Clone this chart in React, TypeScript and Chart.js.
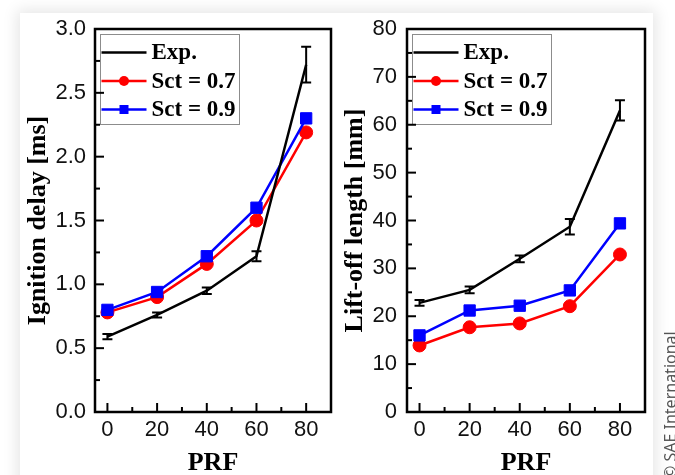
import React, { useEffect, useRef } from 'react';
import { Chart, registerables } from 'chart.js';

Chart.register(...registerables);

// ---------- data ----------
const PRF = [0, 20, 40, 60, 80];
const seriesLabels = ['Exp.', 'Sct = 0.7', 'Sct = 0.9'];

const delayExp = [0.59, 0.76, 0.95, 1.22, 2.72];
const delayExpErr = [0.02, 0.02, 0.025, 0.04, 0.14];
const delaySct07 = [0.78, 0.9, 1.16, 1.5, 2.19];
const delaySct09 = [0.8, 0.94, 1.22, 1.6, 2.3];

const liftExp = [22.8, 25.5, 32.0, 38.7, 63.0];
const liftExpErr = [0.6, 0.7, 0.7, 1.6, 2.1];
const liftSct07 = [13.9, 17.7, 18.5, 22.1, 32.9];
const liftSct09 = [16.0, 21.2, 22.2, 25.4, 39.4];

const xTicks = [0, 20, 40, 60, 80];
const xTickLabels = ['0', '20', '40', '60', '80'];
const xMinorTicks = [10, 30, 50, 70];

const delayTicks = [0, 0.5, 1, 1.5, 2, 2.5, 3];
const delayTickLabels = ['0.0', '0.5', '1.0', '1.5', '2.0', '2.5', '3.0'];
const delayMinorTicks = [0.25, 0.75, 1.25, 1.75, 2.25, 2.75];

const liftTicks = [0, 10, 20, 30, 40, 50, 60, 70, 80];
const liftTickLabels = ['0', '10', '20', '30', '40', '50', '60', '70', '80'];
const liftMinorTicks = [5, 15, 25, 35, 45, 55, 65, 75];

const colors = ['#000000', '#ff0000', '#0000ff'];

// ---------- plugins ----------
const framePlugin = {
  id: 'frameTicks',
  afterDraw(chart: any) {
    const { ctx, chartArea, scales } = chart;
    const o = chart.options.plugins.frameTicks;
    ctx.save();
    ctx.strokeStyle = '#000';
    ctx.lineWidth = 2;
    const xs = scales.x;
    const ys = scales.y;
    const tick = (vals: number[], len: number, horiz: boolean) => {
      vals.forEach((v) => {
        ctx.beginPath();
        if (horiz) {
          const px = xs.getPixelForValue(v);
          ctx.moveTo(px, chartArea.bottom);
          ctx.lineTo(px, chartArea.bottom - len);
        } else {
          const py = ys.getPixelForValue(v);
          ctx.moveTo(chartArea.left, py);
          ctx.lineTo(chartArea.left + len, py);
        }
        ctx.stroke();
      });
    };
    tick(o.xMajor, 9, true);
    tick(o.xMinor, 5, true);
    tick(o.yMajor, 9, false);
    tick(o.yMinor, 5, false);
    ctx.lineWidth = 2.5;
    ctx.strokeRect(
      chartArea.left,
      chartArea.top,
      chartArea.right - chartArea.left,
      chartArea.bottom - chartArea.top
    );
    ctx.restore();
  },
};

const errorBarPlugin = {
  id: 'errorBars',
  afterDatasetsDraw(chart: any) {
    const { ctx } = chart;
    const xs = chart.scales.x;
    const ys = chart.scales.y;
    chart.data.datasets.forEach((ds: any) => {
      if (!ds.errorBars) return;
      ctx.save();
      ctx.strokeStyle = ds.borderColor;
      ctx.lineWidth = 2;
      ds.data.forEach((p: any, i: number) => {
        const e = ds.errorBars[i];
        const px = xs.getPixelForValue(p.x);
        const yTop = ys.getPixelForValue(p.y + e);
        const yBot = ys.getPixelForValue(p.y - e);
        ctx.beginPath();
        ctx.moveTo(px, yTop);
        ctx.lineTo(px, yBot);
        ctx.moveTo(px - 5, yTop);
        ctx.lineTo(px + 5, yTop);
        ctx.moveTo(px - 5, yBot);
        ctx.lineTo(px + 5, yBot);
        ctx.stroke();
      });
      ctx.restore();
    });
  },
};

const boxLegendPlugin = {
  id: 'boxLegend',
  afterDatasetsDraw(chart: any) {
    const { ctx, chartArea } = chart;
    const x0 = chartArea.left + 5.5;
    const y0 = chartArea.top + 5.5;
    const w = 139;
    const h = 90;
    ctx.save();
    ctx.fillStyle = '#ffffff';
    ctx.fillRect(x0, y0, w, h);
    ctx.strokeStyle = '#8c8c8c';
    ctx.lineWidth = 1;
    ctx.strokeRect(x0, y0, w, h);
    chart.data.datasets.forEach((ds: any, i: number) => {
      const cy = y0 + 18 + i * 28.5;
      ctx.strokeStyle = ds.borderColor;
      ctx.lineWidth = 2.5;
      ctx.beginPath();
      ctx.moveTo(x0 + 1, cy);
      ctx.lineTo(x0 + 46, cy);
      ctx.stroke();
      ctx.fillStyle = ds.borderColor;
      if (ds.pointStyle === 'circle' && ds.pointRadius > 0) {
        ctx.beginPath();
        ctx.arc(x0 + 23.5, cy, 5, 0, Math.PI * 2);
        ctx.fill();
      } else if (ds.pointStyle === 'rect' && ds.pointRadius > 0) {
        ctx.fillRect(x0 + 19, cy - 4.5, 9, 9);
      }
      ctx.fillStyle = '#000';
      ctx.font = 'bold 23px "Liberation Serif", "Times New Roman", serif';
      ctx.textBaseline = 'middle';
      ctx.textAlign = 'left';
      ctx.fillText(ds.label, x0 + 51, cy + 1);
    });
    ctx.restore();
  },
};

// ---------- config ----------
function makeConfig(p: {
  exp: number[];
  expErr: number[];
  s07: number[];
  s09: number[];
  yMin: number;
  yMax: number;
  yTicks: number[];
  yTickLabels: string[];
  yMinor: number[];
  yTitle: string;
  yAxisWidth: number;
  yTitlePad: number;
  yLabelPad: number;
  padRight: number;
}) {
  const pts = (arr: number[]) => PRF.map((x, i) => ({ x, y: arr[i] }));
  return {
    type: 'line',
    data: {
      datasets: [
        {
          label: seriesLabels[0],
          data: pts(p.exp),
          borderColor: colors[0],
          backgroundColor: colors[0],
          borderWidth: 2.5,
          pointRadius: 0,
          pointStyle: 'line',
          errorBars: p.expErr,
          order: 0,
        },
        {
          label: seriesLabels[1],
          data: pts(p.s07),
          borderColor: colors[1],
          backgroundColor: colors[1],
          borderWidth: 2.5,
          pointRadius: 6.5,
          pointStyle: 'circle',
          pointBackgroundColor: colors[1],
          pointBorderColor: colors[1],
          pointBorderWidth: 1,
          order: 2,
        },
        {
          label: seriesLabels[2],
          data: pts(p.s09),
          borderColor: colors[2],
          backgroundColor: colors[2],
          borderWidth: 2.5,
          pointRadius: 8,
          pointStyle: 'rect',
          pointBackgroundColor: colors[2],
          pointBorderColor: colors[2],
          pointBorderWidth: 1,
          order: 1,
        },
      ],
    },
    options: {
      animation: false,
      responsive: false,
      maintainAspectRatio: false,
      layout: { padding: { left: 0, top: 29, right: p.padRight, bottom: 0 } },
      plugins: {
        legend: { display: false },
        tooltip: { enabled: false },
        frameTicks: {
          xMajor: xTicks,
          xMinor: xMinorTicks,
          yMajor: p.yTicks,
          yMinor: p.yMinor,
        },
      },
      scales: {
        x: {
          type: 'linear',
          min: -5,
          max: 90,
          afterBuildTicks: (s: any) => {
            s.ticks = xTicks.map((v) => ({ value: v }));
          },
          afterFit: (s: any) => {
            s.height = 63;
          },
          ticks: {
            callback: (_v: any, i: number) => xTickLabels[i],
            font: { family: '"Liberation Sans", Arial, sans-serif', size: 22 },
            color: '#111',
            padding: 5,
            maxRotation: 0,
            autoSkip: false,
          },
          grid: { display: false, drawTicks: false },
          border: { display: false },
          title: {
            display: true,
            text: 'PRF',
            color: '#000',
            font: {
              family: '"Liberation Serif", "Times New Roman", serif',
              size: 26,
              weight: 'bold',
              lineHeight: 1,
            },
            padding: { top: 0, bottom: -1.5 },
          },
        },
        y: {
          type: 'linear',
          min: p.yMin,
          max: p.yMax,
          afterBuildTicks: (s: any) => {
            s.ticks = p.yTicks.map((v) => ({ value: v }));
          },
          afterFit: (s: any) => {
            s.width = p.yAxisWidth;
          },
          ticks: {
            callback: (_v: any, i: number) => p.yTickLabels[i],
            font: { family: '"Liberation Sans", Arial, sans-serif', size: 22 },
            color: '#111',
            padding: p.yLabelPad,
            autoSkip: false,
          },
          grid: { display: false, drawTicks: false },
          border: { display: false },
          title: {
            display: true,
            text: p.yTitle,
            color: '#000',
            font: {
              family: '"Liberation Serif", "Times New Roman", serif',
              size: 26,
              weight: 'bold',
              lineHeight: 1,
            },
            padding: { top: p.yTitlePad, bottom: 0 },
          },
        },
      },
    },
    plugins: [framePlugin, errorBarPlugin, boxLegendPlugin],
  };
}

function Panel({ left, width, config }: { left: number; width: number; config: () => any }) {
  const ref = useRef<HTMLCanvasElement | null>(null);
  useEffect(() => {
    if (!ref.current) return;
    const chart = new Chart(ref.current, config());
    return () => chart.destroy();
  }, []);
  return (
    <canvas
      ref={ref}
      width={width}
      height={475}
      style={{ position: 'absolute', left, top: 0, width, height: 475 }}
    />
  );
}

export default function App() {
  return (
    <div
      style={{
        position: 'fixed',
        left: 0,
        top: 0,
        width: 675,
        height: 475,
        overflow: 'hidden',
        background: '#ffffff',
      }}
    >
      <div
        style={{
          position: 'absolute',
          left: 20,
          top: 13,
          width: 633,
          height: 520,
          background: '#ffffff',
          boxShadow: '0 0 14px 3px rgba(0,0,0,0.10)',
        }}
      />
      <Panel
        left={0}
        width={340}
        config={() =>
          makeConfig({
            exp: delayExp,
            expErr: delayExpErr,
            s07: delaySct07,
            s09: delaySct09,
            yMin: 0,
            yMax: 3,
            yTicks: delayTicks,
            yTickLabels: delayTickLabels,
            yMinor: delayMinorTicks,
            yTitle: 'Ignition delay [ms]',
            yAxisWidth: 95,
            yTitlePad: 25.5,
            yLabelPad: 9,
            padRight: 8,
          })
        }
      />
      <Panel
        left={340}
        width={320}
        config={() =>
          makeConfig({
            exp: liftExp,
            expErr: liftExpErr,
            s07: liftSct07,
            s09: liftSct09,
            yMin: 0,
            yMax: 80,
            yTicks: liftTicks,
            yTickLabels: liftTickLabels,
            yMinor: liftMinorTicks,
            yTitle: 'Lift-off length [mm]',
            yAxisWidth: 67,
            yTitlePad: 2,
            yLabelPad: 10,
            padRight: 15,
          })
        }
      />
      <div
        style={{
          position: 'absolute',
          left: 662,
          top: 479,
          transform: 'rotate(-90deg)',
          transformOrigin: 'left top',
          whiteSpace: 'nowrap',
          fontFamily: '"Noto Sans", "DejaVu Sans", sans-serif',
          fontSize: 16,
          lineHeight: '16px',
          color: '#555',
        }}
      >
        © SAE International
      </div>
    </div>
  );
}
